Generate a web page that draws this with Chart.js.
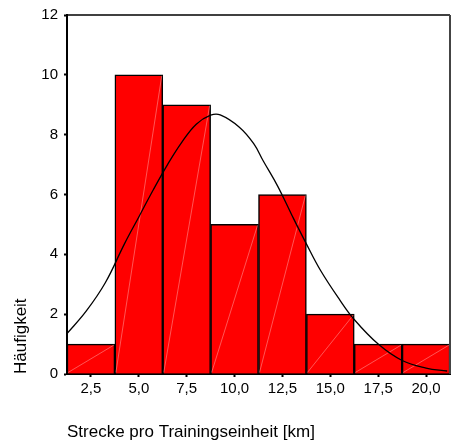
<!DOCTYPE html>
<html>
<head>
<meta charset="utf-8">
<script src="https://cdn.jsdelivr.net/npm/chart.js@4/dist/chart.umd.min.js"></script>
<style>
  body { margin: 0; background: #fff; }
  #wrap { width: 451px; height: 446px; }
</style>
</head>
<body>
<div id="wrap"><canvas id="hist" width="451" height="446"></canvas></div>
<script>
// bin centres (km) and counts
const binCenters = [2.5, 5.0, 7.5, 10.0, 12.5, 15.0, 17.5, 20.0];
const counts = [1, 10, 9, 5, 6, 2, 1, 1];

// normal curve
const curveX = [1.25, 2.25, 3.25, 4.25, 5.0, 5.75, 6.5, 7.25, 8.0, 8.75, 9.25, 10.25, 11.0, 11.5, 12.25, 13.0, 13.75, 14.5, 15.5, 16.25, 17.5, 18.75, 20.0, 21.1];
const curveY = [1.35, 2.1, 3.05, 4.35, 5.25, 6.15, 7.0, 7.75, 8.35, 8.65, 8.66, 8.25, 7.7, 7.12, 6.28, 5.3, 4.35, 3.45, 2.47, 1.82, 1.0, 0.45, 0.2, 0.1];

const xTicks = [2.5, 5.0, 7.5, 10.0, 12.5, 15.0, 17.5, 20.0];
const yTicks = [0, 2, 4, 6, 8, 10, 12];

const tickFont = { family: "'Liberation Sans', Arial, sans-serif", size: 15 };
const titleFont = { family: "'Liberation Sans', Arial, sans-serif", size: 17 };

// top and right edge of the plot box
const framePlugin = {
  id: "frame",
  afterDraw(chart) {
    const { ctx, chartArea: a } = chart;
    ctx.save();
    ctx.strokeStyle = "#000";
    ctx.lineWidth = 1.5;
    ctx.beginPath();
    ctx.moveTo(a.left, a.top);
    ctx.lineTo(a.right, a.top);
    ctx.stroke();
    ctx.strokeStyle = "#444";
    ctx.lineWidth = 2;
    ctx.beginPath();
    ctx.moveTo(a.right, a.top);
    ctx.lineTo(a.right, a.bottom);
    ctx.stroke();
    ctx.restore();
  },
};

// faint diagonal streak inside each bar
const streakPlugin = {
  id: "streak",
  afterDatasetDraw(chart, args) {
    if (args.index !== 0) return;
    const ctx = chart.ctx;
    ctx.save();
    ctx.strokeStyle = "rgba(255,190,190,0.75)";
    ctx.lineWidth = 0.6;
    args.meta.data.forEach((bar) => {
      const { x, y, base, width } = bar.getProps(["x", "y", "base", "width"], true);
      ctx.beginPath();
      ctx.moveTo(x - width / 2 + 1, base - 1);
      ctx.lineTo(x + width / 2 - 1, y + 1);
      ctx.stroke();
    });
    ctx.restore();
  },
};

new Chart(document.getElementById("hist"), {
  data: {
    datasets: [
      {
        type: "bar",
        order: 2,
        data: binCenters.map((x, i) => ({ x: x, y: counts[i] })),
        backgroundColor: "#ff0000",
        borderColor: "#000",
        borderWidth: 1.5,
        borderSkipped: "bottom",
        barPercentage: 1,
        categoryPercentage: 1,
      },
      {
        type: "line",
        order: 1,
        data: curveX.map((x, i) => ({ x: x, y: curveY[i] })),
        borderColor: "#000",
        borderWidth: 1.3,
        pointRadius: 0,
        fill: false,
        tension: 0.4,
      },
    ],
  },
  options: {
    responsive: false,
    animation: false,
    layout: { padding: { top: 15, right: 1, left: 0, bottom: 0 } },
    plugins: { legend: { display: false }, tooltip: { enabled: false } },
    scales: {
      x: {
        type: "linear",
        offset: false,
        min: 1.25,
        max: 21.25,
        afterBuildTicks: (s) => { s.ticks = xTicks.map((v) => ({ value: v })); },
        afterFit: (s) => { s.height = 72; },
        grid: { offset: false, drawOnChartArea: false, tickLength: 3, tickWidth: 2, tickColor: "#000" },
        border: { display: true, color: "#000", width: 2 },
        ticks: {
          color: "#000",
          font: tickFont,
          padding: 3,
          maxRotation: 0,
          callback: (v) => v.toFixed(1).replace(".", ","),
        },
        title: {
          display: true,
          text: "Strecke pro Trainingseinheit [km]",
          align: "start",
          color: "#000",
          font: titleFont,
          padding: { top: 0, bottom: 3 },
        },
      },
      y: {
        min: 0,
        max: 12,
        afterBuildTicks: (s) => { s.ticks = yTicks.map((v) => ({ value: v })); },
        afterFit: (s) => { s.width = 67; },
        grid: { drawOnChartArea: false, tickLength: 3, tickWidth: 2, tickColor: "#000" },
        border: { display: true, color: "#000", width: 2 },
        ticks: { color: "#000", font: tickFont, padding: 6 },
        title: {
          display: true,
          text: "Häufigkeit",
          align: "start",
          color: "#000",
          font: titleFont,
          padding: { top: 11, bottom: 0 },
        },
      },
    },
  },
  plugins: [framePlugin, streakPlugin],
});
</script>
</body>
</html>
